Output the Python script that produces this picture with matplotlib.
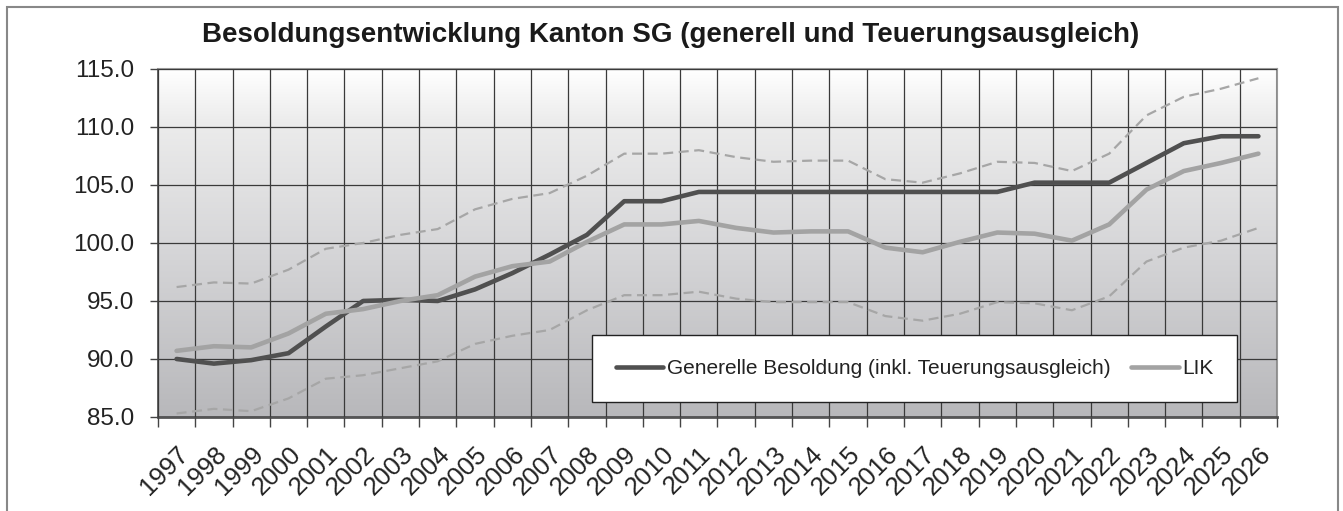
import numpy as np
import matplotlib
matplotlib.use('Agg')
import matplotlib.pyplot as plt
from matplotlib.colors import LinearSegmentedColormap
from matplotlib.patches import Rectangle

# ============================================================
# DATEN
# ============================================================

jahre = [str(j) for j in range(1997, 2027)]

generell = [90.0, 89.6, 89.9, 90.5, 92.8, 95.0, 95.1, 95.0, 96.0, 97.4,
            99.0, 100.7, 103.6, 103.6, 104.4, 104.4, 104.4, 104.4, 104.4, 104.4,
            104.4, 104.4, 104.4, 105.2, 105.2, 105.2, 106.9, 108.6, 109.2, 109.2]

lik = [90.7, 91.1, 91.0, 92.2, 93.9, 94.3, 95.0, 95.5, 97.1, 98.0,
       98.4, 100.1, 101.6, 101.6, 101.9, 101.3, 100.9, 101.0, 101.0, 99.6,
       99.2, 100.1, 100.9, 100.8, 100.2, 101.6, 104.6, 106.2, 106.9, 107.7]

lik_oben = [96.2, 96.6, 96.5, 97.7, 99.5, 100.0, 100.7, 101.2, 102.9, 103.8,
            104.3, 105.8, 107.7, 107.7, 108.0, 107.4, 107.0, 107.1, 107.1, 105.5,
            105.2, 106.0, 107.0, 106.9, 106.2, 107.7, 111.0, 112.6, 113.3, 114.2]

lik_unten = [85.3, 85.7, 85.5, 86.6, 88.3, 88.6, 89.2, 89.8, 91.3, 92.0,
             92.5, 94.2, 95.5, 95.5, 95.8, 95.2, 94.9, 94.9, 94.9, 93.7,
             93.3, 93.9, 94.9, 94.8, 94.2, 95.4, 98.4, 99.6, 100.2, 101.3]

y_ticks = [85.0, 90.0, 95.0, 100.0, 105.0, 110.0, 115.0]

titel = "Besoldungsentwicklung Kanton SG (generell und Teuerungsausgleich)"
label_generell = "Generelle Besoldung (inkl. Teuerungsausgleich)"
label_lik = "LIK"

# ============================================================
# GRAFIK
# ============================================================

plt.rcParams['font.family'] = ['Liberation Sans', 'DejaVu Sans']

fig = plt.figure(figsize=(13.43, 5.11), dpi=100)
fig.patch.set_facecolor('white')
ax = fig.add_axes([0.1176, 0.1840, 0.8333, 0.6810])

x = np.arange(len(jahre))
ax.set_xlim(-0.5, len(jahre) - 0.5)
ax.set_ylim(85, 115)

# Hintergrund mit Verlauf
cmap = LinearSegmentedColormap.from_list(
    'verlauf', [(0.0, '#b8b8bb'), (0.5, '#d7d7d9'), (0.85, '#ececec'), (1.0, '#ffffff')])
verlauf = np.linspace(0, 1, 256).reshape(-1, 1)
ax.imshow(verlauf, cmap=cmap, aspect='auto', origin='lower',
          extent=(-0.5, len(jahre) - 0.5, 85, 115), zorder=0)

# Gitter
ax.set_xticks(np.arange(-0.5, len(jahre), 1))
ax.set_xticklabels([])
ax.set_xticks(x, minor=True)
ax.set_xticklabels(jahre, minor=True, rotation=45, ha='right', va='top',
                   rotation_mode='anchor', fontsize=18.5, color='#222222')
ax.tick_params(axis='x', which='major', length=7, width=1, color='#444444')
ax.tick_params(axis='x', which='minor', length=0, pad=18)
ax.set_yticks(y_ticks)
ax.set_yticklabels([f"{v:.1f}" for v in y_ticks], fontsize=17.5, color='#222222')
ax.tick_params(axis='y', length=6, width=1, color='#444444', pad=11)
ax.grid(True, which='major', color='#3a3a3a', linewidth=0.9, zorder=1)
ax.set_axisbelow(False)

for sp in ['top', 'right']:
    ax.spines[sp].set_color('#999999')
    ax.spines[sp].set_linewidth(1.5)
ax.spines['left'].set_color('#444444')
ax.spines['left'].set_linewidth(1.2)
ax.spines['bottom'].set_color('#555555')
ax.spines['bottom'].set_linewidth(2)

# Linien
ax.plot(x, lik_oben, color='#a6a6a6', lw=1.6, ls=(0, (4.5, 2.5)), zorder=3)
ax.plot(x, lik_unten, color='#a6a6a6', lw=1.6, ls=(0, (4.5, 2.5)), zorder=3)
ax.plot(x, generell, color='#505050', lw=3.3, solid_capstyle='round',
        solid_joinstyle='round', zorder=4, label=label_generell)
ax.plot(x, lik, color='#a3a3a3', lw=3.3, solid_capstyle='round',
        solid_joinstyle='round', zorder=4, label=label_lik)

leg = ax.legend(loc='center', bbox_to_anchor=(0.676, 0.138), ncol=2,
                fontsize=15, frameon=True, fancybox=False, framealpha=1,
                edgecolor='#222222', borderpad=1.15, handlelength=2.3,
                handletextpad=0.15, columnspacing=1.0)
leg.get_frame().set_linewidth(1.0)
leg.set_zorder(5)
for t in leg.get_texts():
    t.set_color('#222222')

fig.text(0.499, 0.931, titel, ha='center', va='center', fontsize=20,
         fontweight='bold', color='#1a1a1a')

# Rahmen um die ganze Grafik
rahmen = Rectangle((7 / 1343, -0.05), 1331 / 1343, 1.05 - 7 / 511,
                   transform=fig.transFigure, fill=False,
                   edgecolor='#888888', linewidth=1.5)
fig.patches.append(rahmen)

fig.savefig('out.png', dpi=100, facecolor='white')
plt.close(fig)
